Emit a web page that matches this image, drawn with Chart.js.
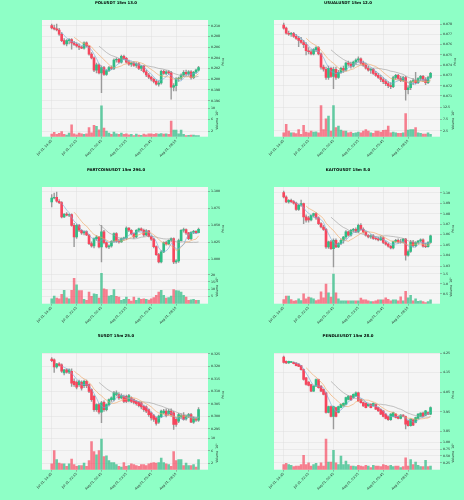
<!DOCTYPE html>
<html><head><meta charset="utf-8">
<script src="https://cdn.jsdelivr.net/npm/chart.js@4.4.1/dist/chart.umd.min.js"></script>
<style>
html,body{margin:0;padding:0;background:#8effc6;}
#wrap{position:relative;width:464px;height:500px;overflow:hidden;background:#8effc6;}
#wrap canvas{position:absolute;}
</style></head><body><div id="wrap"></div>
<script>
// ---------- shared categories ----------
const tickIndex = [0, 10, 20, 30, 40, 50];
const tickLabels = ['Jul 31, 19:45', 'Jul 31, 22:15', 'Aug 01, 00:45', 'Aug 01, 03:15', 'Aug 01, 05:45', 'Aug 01, 08:15'];
const maPeriods = [5, 10, 20];

// ---------- POLUSDT ----------
const polOHLC = [[0.2100,0.2103,0.2094,0.2096],[0.2096,0.2101,0.2092,0.2094],[0.2094,0.2103,0.2090,0.2092],[0.2092,0.2095,0.2082,0.2084],[0.2084,0.2087,0.2070,0.2072],[0.2072,0.2076,0.2064,0.2066],[0.2066,0.2074,0.2062,0.2072],[0.2072,0.2076,0.2066,0.2074],[0.2074,0.2076,0.2056,0.2068],[0.2068,0.2071,0.2063,0.2065],
[0.2065,0.2068,0.2060,0.2062],[0.2062,0.2066,0.2055,0.2060],[0.2060,0.2062,0.2057,0.2058],[0.2058,0.2070,0.2056,0.2068],[0.2068,0.2070,0.2060,0.2062],[0.2062,0.2063,0.2045,0.2047],[0.2047,0.2050,0.2038,0.2040],[0.2040,0.2042,0.2014,0.2017],[0.2017,0.2030,0.2012,0.2027],[0.2027,0.2029,0.2010,0.2012],
[0.2012,0.2025,0.1975,0.2022],[0.2022,0.2024,0.2007,0.2009],[0.2009,0.2018,0.2007,0.2016],[0.2016,0.2024,0.2014,0.2022],[0.2022,0.2025,0.2018,0.2020],[0.2020,0.2038,0.2018,0.2036],[0.2036,0.2040,0.2032,0.2037],[0.2037,0.2039,0.2030,0.2032],[0.2032,0.2045,0.2030,0.2043],[0.2043,0.2045,0.2037,0.2039],
[0.2039,0.2041,0.2030,0.2032],[0.2032,0.2036,0.2026,0.2028],[0.2028,0.2032,0.2024,0.2030],[0.2030,0.2033,0.2024,0.2026],[0.2026,0.2031,0.2022,0.2029],[0.2029,0.2031,0.2018,0.2020],[0.2020,0.2026,0.2016,0.2024],[0.2024,0.2026,0.2012,0.2014],[0.2014,0.2017,0.2005,0.2008],[0.2008,0.2011,0.2001,0.2004],
[0.2004,0.2006,0.1997,0.2000],[0.2000,0.2002,0.1993,0.1996],[0.1996,0.1999,0.1989,0.1991],[0.1991,0.1997,0.1987,0.1993],[0.1993,0.2017,0.1991,0.2015],[0.2015,0.2017,0.2009,0.2011],[0.2011,0.2016,0.2008,0.2014],[0.2014,0.2016,0.2009,0.2012],[0.2012,0.2015,0.1963,0.1985],[0.1985,0.1992,0.1978,0.1988],
[0.1988,0.2003,0.1978,0.2001],[0.2001,0.2004,0.1996,0.2002],[0.2002,0.2010,0.1999,0.2008],[0.2008,0.2016,0.2005,0.2013],[0.2013,0.2017,0.2007,0.2010],[0.2010,0.2016,0.2007,0.2014],[0.2014,0.2016,0.2000,0.2003],[0.2003,0.2015,0.2001,0.2013],[0.2013,0.2019,0.2011,0.2017],[0.2017,0.2024,0.2015,0.2022]];
const polVolume = [0.9,1.5,0.8,1.2,1.8,0.8,0.6,1.3,4.2,1.0, 0.7,1.3,1.0,0.8,1.0,3.2,1.4,4.0,3.6,2.4, 10.8,3.0,2.0,1.3,0.8,1.6,1.0,0.8,1.3,0.8, 1.0,0.7,0.8,0.4,0.9,0.6,0.5,0.9,0.7,1.0, 1.0,0.8,1.1,0.9,1.1,0.9,1.0,0.8,5.5,2.3, 2.3,1.0,2.3,0.8,0.4,0.5,0.6,0.6,0.4,0.4];
const polPriceTicks = [0.196,0.198,0.200,0.202,0.204,0.206,0.208,0.210];
const polVolumeTicks = [2,4,6,8,10];

// ---------- USUALUSDT ----------
const usualOHLC = [[0.0779,0.0781,0.0775,0.0776],[0.0776,0.0777,0.0770,0.0771],[0.0771,0.0773,0.0769,0.0770],[0.0770,0.0772,0.0768,0.0771],[0.0771,0.0772,0.0767,0.0768],[0.0768,0.0770,0.0765,0.0766],[0.0766,0.0768,0.0758,0.0764],[0.0764,0.0767,0.0761,0.0762],[0.0762,0.0764,0.0757,0.0760],[0.0760,0.0762,0.0750,0.0754],
[0.0754,0.0757,0.0751,0.0753],[0.0753,0.0755,0.0750,0.0751],[0.0751,0.0756,0.0750,0.0755],[0.0755,0.0758,0.0753,0.0757],[0.0757,0.0758,0.0750,0.0751],[0.0751,0.0752,0.0736,0.0738],[0.0738,0.0740,0.0734,0.0736],[0.0736,0.0738,0.0726,0.0728],[0.0728,0.0739,0.0726,0.0737],[0.0737,0.0738,0.0728,0.0729],
[0.0729,0.0738,0.0717,0.0736],[0.0736,0.0738,0.0726,0.0728],[0.0728,0.0735,0.0727,0.0733],[0.0733,0.0738,0.0732,0.0737],[0.0737,0.0739,0.0733,0.0735],[0.0735,0.0743,0.0734,0.0742],[0.0742,0.0744,0.0739,0.0741],[0.0741,0.0743,0.0737,0.0739],[0.0739,0.0744,0.0738,0.0743],[0.0743,0.0746,0.0741,0.0745],
[0.0745,0.0748,0.0743,0.0746],[0.0746,0.0747,0.0741,0.0742],[0.0742,0.0744,0.0739,0.0740],[0.0740,0.0742,0.0736,0.0737],[0.0737,0.0739,0.0734,0.0735],[0.0735,0.0737,0.0732,0.0736],[0.0736,0.0737,0.0731,0.0732],[0.0732,0.0734,0.0729,0.0730],[0.0730,0.0732,0.0727,0.0728],[0.0728,0.0730,0.0724,0.0726],
[0.0726,0.0728,0.0722,0.0724],[0.0724,0.0726,0.0720,0.0722],[0.0722,0.0724,0.0718,0.0720],[0.0720,0.0723,0.0717,0.0719],[0.0719,0.0729,0.0718,0.0728],[0.0728,0.0731,0.0726,0.0730],[0.0730,0.0731,0.0726,0.0727],[0.0727,0.0729,0.0724,0.0725],[0.0725,0.0729,0.0724,0.0728],[0.0728,0.0729,0.0706,0.0716],
[0.0716,0.0720,0.0712,0.0718],[0.0718,0.0725,0.0716,0.0724],[0.0724,0.0727,0.0721,0.0725],[0.0725,0.0733,0.0722,0.0723],[0.0723,0.0728,0.0722,0.0727],[0.0727,0.0730,0.0725,0.0729],[0.0729,0.0730,0.0724,0.0726],[0.0726,0.0728,0.0721,0.0723],[0.0723,0.0729,0.0722,0.0728],[0.0728,0.0733,0.0727,0.0732]];
const usualVolume = [1.7,5.3,2.4,1.7,1.7,1.3,3.1,1.0,4.9,2.0, 1.7,2.4,2.0,2.1,1.7,13.4,3.1,7.7,8.9,2.4, 13.4,3.9,4.6,2.9,2.4,2.4,1.7,2.0,1.4,1.7, 2.0,1.7,2.4,3.1,2.4,1.7,1.4,2.4,2.4,2.0, 2.7,2.9,4.6,1.7,2.0,1.7,1.4,1.4,1.7,9.9, 2.9,3.1,3.1,3.9,1.7,1.4,1.1,1.1,1.7,1.0];
const usualPriceTicks = [0.071,0.072,0.073,0.074,0.075,0.076,0.077,0.078];
const usualVolumeTicks = [2.5,5.0,7.5,10.0,12.5];

// ---------- PARTCOINUSDT ----------
const partOHLC = [[1.0844,1.0951,1.0771,1.0902],[1.0902,1.0975,1.0890,1.0912],[1.0912,1.0990,1.0840,1.0854],[1.0854,1.0880,1.0820,1.0834],[1.0834,1.0850,1.0610,1.0624],[1.0624,1.0675,1.0615,1.0668],[1.0668,1.0690,1.0640,1.0650],[1.0650,1.0670,1.0630,1.0660],[1.0660,1.0670,1.0490,1.0502],[1.0502,1.0530,1.0190,1.0331],
[1.0331,1.0520,1.0310,1.0502],[1.0502,1.0515,1.0410,1.0429],[1.0429,1.0440,1.0370,1.0390],[1.0390,1.0420,1.0360,1.0410],[1.0410,1.0420,1.0350,1.0360],[1.0360,1.0370,1.0220,1.0234],[1.0234,1.0260,1.0180,1.0200],[1.0200,1.0320,1.0170,1.0307],[1.0307,1.0350,1.0280,1.0331],[1.0331,1.0340,1.0170,1.0185],
[1.0185,1.0500,0.9965,1.0405],[1.0405,1.0430,1.0230,1.0248],[1.0248,1.0260,1.0170,1.0185],[1.0185,1.0215,1.0160,1.0200],[1.0200,1.0280,1.0180,1.0268],[1.0268,1.0390,1.0250,1.0380],[1.0380,1.0395,1.0250,1.0268],[1.0268,1.0300,1.0240,1.0258],[1.0258,1.0320,1.0250,1.0307],[1.0307,1.0330,1.0280,1.0317],
[1.0317,1.0480,1.0290,1.0463],[1.0463,1.0470,1.0410,1.0429],[1.0429,1.0440,1.0360,1.0380],[1.0380,1.0390,1.0310,1.0330],[1.0330,1.0440,1.0320,1.0429],[1.0429,1.0460,1.0410,1.0450],[1.0450,1.0465,1.0420,1.0430],[1.0430,1.0445,1.0340,1.0360],[1.0360,1.0440,1.0350,1.0420],[1.0420,1.0430,1.0330,1.0340],
[1.0340,1.0350,1.0280,1.0300],[1.0300,1.0310,1.0170,1.0190],[1.0190,1.0200,1.0060,1.0073],[1.0073,1.0090,0.9950,0.9966],[0.9966,1.0130,0.9950,1.0112],[1.0112,1.0260,1.0100,1.0248],[1.0248,1.0270,1.0210,1.0230],[1.0230,1.0290,1.0220,1.0283],[1.0283,1.0320,1.0260,1.0307],[1.0307,1.0320,0.9941,0.9966],
[0.9966,1.0000,0.9945,0.9980],[0.9980,1.0300,0.9960,1.0278],[1.0278,1.0440,1.0270,1.0429],[1.0429,1.0460,1.0400,1.0440],[1.0440,1.0450,1.0370,1.0390],[1.0390,1.0400,1.0290,1.0307],[1.0307,1.0410,1.0290,1.0400],[1.0400,1.0430,1.0380,1.0414],[1.0414,1.0425,1.0380,1.0395],[1.0395,1.0460,1.0390,1.0444]];
const partVolume = [3.4,5.2,3.9,3.4,6.4,9.3,4.1,3.4,9.3,17.5, 13.0,9.1,9.1,3.0,2.3,8.0,5.0,6.8,6.4,3.9, 21.0,10.2,9.8,5.2,5.7,9.8,5.0,4.5,2.3,3.0, 4.5,3.0,1.8,4.5,2.3,3.9,3.0,3.4,3.0,2.5, 3.4,4.3,5.7,8.0,9.3,5.7,3.9,4.3,5.2,9.8, 9.1,8.9,8.0,5.7,4.5,2.3,2.7,3.0,2.3,2.3];
const partPriceTicks = [1.000,1.025,1.050,1.075,1.100];
const partVolumeTicks = [5,10,15,20];

// ---------- KAITOUSDT ----------
const kaitoOHLC = [[1.1000,1.1015,1.0950,1.0959],[1.0959,1.0970,1.0905,1.0911],[1.0911,1.0935,1.0900,1.0927],[1.0927,1.0940,1.0905,1.0915],[1.0915,1.0925,1.0890,1.0900],[1.0900,1.0910,1.0830,1.0841],[1.0841,1.0890,1.0830,1.0880],[1.0880,1.0930,1.0870,1.0895],[1.0895,1.0900,1.0705,1.0769],[1.0769,1.0790,1.0720,1.0737],
[1.0760,1.0775,1.0720,1.0740],[1.0740,1.0790,1.0730,1.0784],[1.0784,1.0805,1.0770,1.0800],[1.0800,1.0810,1.0745,1.0760],[1.0760,1.0770,1.0695,1.0705],[1.0705,1.0715,1.0665,1.0673],[1.0673,1.0690,1.0640,1.0650],[1.0650,1.0660,1.0470,1.0483],[1.0483,1.0540,1.0470,1.0531],[1.0531,1.0545,1.0460,1.0467],
[1.0467,1.0560,1.0293,1.0547],[1.0547,1.0560,1.0475,1.0483],[1.0483,1.0525,1.0475,1.0515],[1.0515,1.0560,1.0505,1.0547],[1.0547,1.0585,1.0520,1.0578],[1.0578,1.0640,1.0560,1.0626],[1.0626,1.0635,1.0585,1.0594],[1.0594,1.0650,1.0585,1.0642],[1.0642,1.0660,1.0625,1.0650],[1.0650,1.0665,1.0620,1.0630],
[1.0630,1.0700,1.0620,1.0689],[1.0689,1.0705,1.0640,1.0650],[1.0650,1.0665,1.0615,1.0625],[1.0625,1.0635,1.0585,1.0594],[1.0594,1.0600,1.0570,1.0578],[1.0578,1.0600,1.0565,1.0590],[1.0590,1.0600,1.0555,1.0565],[1.0565,1.0580,1.0550,1.0560],[1.0560,1.0575,1.0540,1.0550],[1.0550,1.0585,1.0545,1.0570],
[1.0570,1.0580,1.0515,1.0525],[1.0525,1.0540,1.0500,1.0510],[1.0510,1.0520,1.0480,1.0490],[1.0490,1.0500,1.0465,1.0474],[1.0474,1.0540,1.0465,1.0535],[1.0535,1.0555,1.0525,1.0547],[1.0547,1.0560,1.0520,1.0530],[1.0530,1.0555,1.0520,1.0528],[1.0528,1.0565,1.0520,1.0558],[1.0558,1.0565,1.0357,1.0404],
[1.0404,1.0455,1.0395,1.0440],[1.0440,1.0545,1.0430,1.0529],[1.0529,1.0545,1.0480,1.0495],[1.0495,1.0535,1.0485,1.0525],[1.0525,1.0545,1.0515,1.0540],[1.0540,1.0560,1.0530,1.0550],[1.0550,1.0560,1.0480,1.0490],[1.0490,1.0520,1.0475,1.0485],[1.0485,1.0535,1.0480,1.0525],[1.0525,1.0595,1.0520,1.0588]];
const kaitoVolume = [0.21,0.38,0.38,0.21,0.13,0.16,0.25,0.16,0.49,0.25, 0.33,0.30,0.25,0.16,0.20,0.60,0.30,0.98,0.54,0.33, 1.48,0.54,0.25,0.15,0.15,0.15,0.15,0.15,0.15,0.15, 0.15,0.28,0.20,0.20,0.15,0.10,0.10,0.15,0.20,0.20, 0.20,0.30,0.22,0.15,0.20,0.20,0.15,0.35,0.15,0.62, 0.30,0.42,0.15,0.25,0.12,0.15,0.10,0.05,0.10,0.20];
const kaitoPriceTicks = [1.03,1.04,1.05,1.06,1.07,1.08,1.09,1.10];
const kaitoVolumeTicks = [0.5,1.0,1.5];

// ---------- SUSDT ----------
const sOHLC = [[0.3229,0.3235,0.3218,0.3222],[0.3226,0.3230,0.3175,0.3197],[0.3197,0.3212,0.3192,0.3210],[0.3210,0.3215,0.3200,0.3203],[0.3206,0.3210,0.3175,0.3180],[0.3173,0.3188,0.3165,0.3186],[0.3186,0.3190,0.3172,0.3176],[0.3176,0.3190,0.3170,0.3186],[0.3180,0.3190,0.3120,0.3133],[0.3140,0.3150,0.3120,0.3127],
[0.3136,0.3142,0.3110,0.3117],[0.3127,0.3145,0.3120,0.3140],[0.3136,0.3142,0.3105,0.3113],[0.3123,0.3145,0.3115,0.3140],[0.3140,0.3145,0.3115,0.3123],[0.3127,0.3130,0.3095,0.3100],[0.3107,0.3110,0.3060,0.3067],[0.3080,0.3085,0.3020,0.3027],[0.3027,0.3050,0.3020,0.3047],[0.3047,0.3052,0.3010,0.3017],
[0.3017,0.3060,0.2975,0.3054],[0.3056,0.3062,0.3020,0.3027],[0.3027,0.3050,0.3022,0.3047],[0.3047,0.3070,0.3042,0.3067],[0.3067,0.3078,0.3060,0.3074],[0.3067,0.3100,0.3062,0.3094],[0.3087,0.3102,0.3082,0.3094],[0.3087,0.3095,0.3068,0.3074],[0.3074,0.3090,0.3070,0.3083],[0.3080,0.3085,0.3055,0.3060],
[0.3080,0.3085,0.3055,0.3060],[0.3062,0.3088,0.3058,0.3083],[0.3074,0.3078,0.3055,0.3060],[0.3067,0.3070,0.3050,0.3056],[0.3060,0.3063,0.3045,0.3051],[0.3056,0.3060,0.3038,0.3043],[0.3054,0.3058,0.3030,0.3038],[0.3040,0.3045,0.3020,0.3027],[0.3038,0.3042,0.3015,0.3021],[0.3027,0.3030,0.3000,0.3007],
[0.3014,0.3018,0.2985,0.2994],[0.3003,0.3008,0.2980,0.2988],[0.2994,0.2998,0.2965,0.2972],[0.2977,0.3005,0.2972,0.3001],[0.2999,0.3025,0.2995,0.3021],[0.3014,0.3028,0.3010,0.3021],[0.3021,0.3030,0.2998,0.3003],[0.3011,0.3028,0.3005,0.3021],[0.3021,0.3030,0.3000,0.3007],[0.3014,0.3020,0.2948,0.2968],
[0.2988,0.2995,0.2960,0.2968],[0.2981,0.3012,0.2975,0.3007],[0.2998,0.3010,0.2992,0.3003],[0.3003,0.3015,0.2985,0.2988],[0.2990,0.3005,0.2985,0.3001],[0.3001,0.3012,0.2995,0.3007],[0.3007,0.3012,0.2975,0.2977],[0.2977,0.2998,0.2972,0.2994],[0.2990,0.2995,0.2980,0.2985],[0.2985,0.3035,0.2980,0.3027]];
const sVolume = [1.9,6.1,3.2,2.1,1.9,1.9,1.1,1.9,3.4,1.6, 1.1,1.3,1.3,2.1,1.1,2.9,8.9,5.8,4.7,6.1, 9.7,4.2,4.4,2.9,2.3,2.3,1.6,1.1,0.8,2.3, 1.1,1.3,1.9,1.6,1.3,1.1,1.6,1.6,1.3,1.9, 2.1,2.3,2.1,2.3,3.7,2.3,1.9,1.6,1.1,5.8, 2.9,3.2,3.2,1.3,2.1,1.3,1.3,1.6,0.8,3.2];
const sPriceTicks = [0.295,0.300,0.305,0.310,0.315,0.320,0.325];
const sVolumeTicks = [2,4,6,8,10];

// ---------- PENDLEUSDT ----------
const pendleOHLC = [[4.2297,4.2350,4.1990,4.2027],[4.2078,4.2110,4.1960,4.1993],[4.1993,4.2095,4.1970,4.2078],[4.2027,4.2080,4.2010,4.2060],[4.2027,4.2050,4.1940,4.1960],[4.1993,4.2010,4.1840,4.1858],[4.1943,4.1970,4.1800,4.1824],[4.1858,4.1880,4.1630,4.1655],[4.1655,4.1680,4.1120,4.1149],[4.1233,4.1260,4.0860,4.0895],
[4.1014,4.1040,4.0820,4.0845],[4.0895,4.0920,4.0530,4.0558],[4.0558,4.0830,4.0540,4.0811],[4.0811,4.1180,4.0790,4.1149],[4.1149,4.1170,4.0700,4.0727],[4.0811,4.0840,4.0530,4.0558],[4.0642,4.0660,4.0360,4.0389],[4.0473,4.0500,3.9430,3.9460],[3.9460,3.9790,3.9440,3.9764],[3.9764,3.9800,3.9230,3.9257],
[3.9257,3.9790,3.8615,3.9764],[3.9713,3.9740,3.9230,3.9257],[3.9460,3.9790,3.9440,3.9764],[3.9713,3.9900,3.9690,3.9882],[3.9798,3.9950,3.9780,3.9933],[3.9882,4.0250,3.9860,4.0220],[4.0135,4.0320,4.0110,4.0304],[4.0304,4.0330,4.0080,4.0102],[4.0220,4.0420,4.0200,4.0389],[4.0304,4.0520,4.0280,4.0473],
[4.0473,4.0500,4.0030,4.0051],[4.0135,4.0160,3.9940,3.9967],[3.9967,4.0000,3.9770,3.9798],[3.9933,3.9960,3.9690,3.9713],[3.9798,3.9900,3.9780,3.9882],[3.9882,3.9910,3.9690,3.9713],[3.9798,3.9950,3.9780,3.9933],[3.9882,3.9900,3.9600,3.9629],[3.9713,3.9740,3.9520,3.9544],[3.9629,3.9650,3.9350,3.9375],
[3.9544,3.9560,3.9230,3.9257],[3.9375,3.9400,3.9130,3.9156],[3.9257,3.9280,3.9060,3.9088],[3.9088,3.9400,3.9060,3.9375],[3.9257,3.9480,3.9230,3.9460],[3.9375,3.9400,3.9180,3.9207],[3.9257,3.9280,3.9130,3.9156],[3.9156,3.9350,3.9130,3.9325],[3.9325,3.9350,3.9230,3.9257],[3.9257,3.9280,3.8615,3.8869],
[3.9038,3.9060,3.8760,3.8784],[3.8784,3.9140,3.8760,3.9122],[3.9088,3.9110,3.8790,3.8818],[3.8953,3.9230,3.8930,3.9207],[3.9156,3.9400,3.9130,3.9375],[3.9257,3.9450,3.9230,3.9426],[3.9426,3.9480,3.9230,3.9257],[3.9325,3.9570,3.9300,3.9544],[3.9460,3.9500,3.9350,3.9375],[3.9375,3.9750,3.9350,3.9713]];
const pendleVolume = [0.19,0.23,0.19,0.16,0.11,0.13,0.13,0.19,0.52,0.19, 0.25,0.13,0.19,0.23,0.13,0.25,0.13,1.12,0.28,0.28, 0.71,0.25,0.19,0.50,0.19,0.31,0.19,0.13,0.13,0.11, 0.16,0.13,0.11,0.16,0.13,0.08,0.16,0.13,0.13,0.11, 0.19,0.16,0.13,0.16,0.11,0.13,0.13,0.08,0.11,0.43, 0.13,0.37,0.19,0.28,0.16,0.11,0.11,0.34,0.11,0.13];
const pendlePriceTicks = [3.85,3.90,3.95,4.00,4.05,4.10,4.15,4.20,4.25];
const pendleVolumeTicks = [0.25,0.50,0.75,1.00];

// ---------- panels ----------
const panels = [
  {title:'POLUSDT 15m 13.0', ohlc:polOHLC, vol:polVolume, pTicks:polPriceTicks, vTicks:polVolumeTicks, pMin:0.19550, pMax:0.21106, vMax:11.7, pDec:3, vDec:0, exp:'⁶'},
  {title:'USUALUSDT 15m 12.0', ohlc:usualOHLC, vol:usualVolume, pTicks:usualPriceTicks, vTicks:usualVolumeTicks, pMin:0.07028, pMax:0.07839, vMax:14.35, pDec:3, vDec:1, exp:'⁶'},
  {title:'PARTCOINUSDT 15m 296.0', ohlc:partOHLC, vol:partVolume, pTicks:partPriceTicks, vTicks:partVolumeTicks, pMin:0.9842, pMax:1.1063, vMax:23, pDec:3, vDec:0, exp:'⁵'},
  {title:'KAITOUSDT 15m 8.0', ohlc:kaitoOHLC, vol:kaitoVolume, pTicks:kaitoPriceTicks, vTicks:kaitoVolumeTicks, pMin:1.026, pMax:1.1054, vMax:1.67, pDec:2, vDec:1, exp:'⁶'},
  {title:'SUSDT 15m 25.0', ohlc:sOHLC, vol:sVolume, pTicks:sPriceTicks, vTicks:sVolumeTicks, pMin:0.29205, pMax:0.32528, vMax:10.6, pDec:3, vDec:0, exp:'⁶'},
  {title:'PENDLEUSDT 15m 28.0', ohlc:pendleOHLC, vol:pendleVolume, pTicks:pendlePriceTicks, vTicks:pendleVolumeTicks, pMin:3.824, pMax:4.2505, vMax:1.215, pDec:2, vDec:2, exp:'⁶'}
];

// ---------- styles ----------
const UP = '#2ebd85', DOWN = '#f6465d';
const UP_VOL = 'rgba(46,189,133,0.72)', DOWN_VOL = 'rgba(246,70,93,0.68)';
const WICK = '#9a9a9a';
const MA_COLORS = ['rgba(120,170,215,0.9)', 'rgba(240,165,100,0.9)', 'rgba(160,160,160,0.9)'];
const PLOT_BG = '#f5f5f5', GRID = '#dedede', TXT = '#222';
const FONT = 'DejaVu Sans';
const rowTop = [0, 167, 333], rowH = [167, 166, 167];
const PW = 232, PLOT_L = 42, PLOT_R = 208, PLOT_T = 20, PLOT_B = 136.7;

function sma(closes, n){
  const out = [];
  for (let i = n - 1; i < closes.length; i++){
    let s = 0; for (let k = i - n + 1; k <= i; k++) s += closes[k];
    out.push({x:i, y:s / n});
  }
  return out;
}

const wrap = document.getElementById('wrap');
panels.forEach((p, idx) => {
  const col = idx % 2, row = Math.floor(idx / 2);
  const H = rowH[row];
  const cv = document.createElement('canvas');
  cv.width = PW; cv.height = H;
  cv.style.left = (col * PW) + 'px'; cv.style.top = rowTop[row] + 'px';
  cv.style.width = PW + 'px'; cv.style.height = H + 'px';
  wrap.appendChild(cv);

  const closes = p.ohlc.map(c => c[3]);
  const isUp = p.ohlc.map(c => c[3] >= c[0]);
  const wicks = p.ohlc.map((c, i) => ({x:i, y:[c[2], c[1]]}));
  const bodies = p.ohlc.map((c, i) => ({x:i, y:[c[0], c[3]]}));
  const vols = p.vol.map((v, i) => ({x:i, y:v}));

  const maSets = maPeriods.map((n, k) => ({
    type:'line', data:sma(closes, n), yAxisID:'y', borderColor:MA_COLORS[k], borderWidth:0.7,
    pointRadius:0, fill:false, tension:0, order:1
  }));

  const textPlugin = {
    id:'panelText',
    beforeDraw(chart){
      const {ctx, chartArea:a} = chart;
      ctx.save(); ctx.fillStyle = PLOT_BG; ctx.fillRect(a.left, a.top, a.right - a.left, a.bottom - a.top); ctx.restore();
    },
    afterDraw(chart){
      const ctx = chart.ctx;
      ctx.save();
      ctx.fillStyle = '#000'; ctx.font = 'bold 3.9px "' + FONT + '"';
      ctx.textAlign = 'center'; ctx.textBaseline = 'middle';
      ctx.fillText(p.title, PW / 2, 3.2);
      ctx.font = '3.2px "' + FONT + '"'; ctx.fillStyle = TXT;
      const axisLabel = (scale, text) => {
        let w = 0;
        scale.ticks.forEach(t => { w = Math.max(w, ctx.measureText(String(t.label)).width); });
        const x = scale.left + 3 + w + 2.6, y = (scale.top + scale.bottom) / 2;
        ctx.save(); ctx.translate(x, y); ctx.rotate(-Math.PI / 2);
        ctx.textAlign = 'center'; ctx.textBaseline = 'middle'; ctx.fillText(text, 0, 0); ctx.restore();
      };
      axisLabel(chart.scales.y, 'Price');
      axisLabel(chart.scales.yv, 'Volume  10' + p.exp);
      ctx.restore();
    }
  };

  new Chart(cv, {
    type:'bar',
    data:{datasets:[
      ...maSets,
      {data:bodies, yAxisID:'y', backgroundColor:isUp.map(u => u ? UP : DOWN), borderWidth:0, barThickness:2.0, grouped:false, order:2},
      {data:wicks, yAxisID:'y', backgroundColor:WICK, borderWidth:0, barThickness:0.75, grouped:false, order:3},
      {data:vols, yAxisID:'yv', backgroundColor:isUp.map(u => u ? UP_VOL : DOWN_VOL), borderWidth:0, barThickness:1.9, grouped:false, order:2}
    ]},
    options:{
      responsive:false, animation:false, devicePixelRatio:1,
      layout:{padding:{left:PLOT_L, top:PLOT_T, right:0, bottom:0}},
      plugins:{legend:{display:false}, tooltip:{enabled:false}},
      scales:{
        x:{type:'linear', min:-3.9, max:62.8, offset:false,
          afterBuildTicks: s => { s.ticks = tickIndex.map(v => ({value:v})); },
          afterFit: s => { s.height = H - PLOT_B; },
          ticks:{autoSkip:false, minRotation:45, maxRotation:45, padding:0.5, color:TXT, font:{family:FONT, size:3.2},
            callback: v => { const k = tickIndex.indexOf(v); return k >= 0 ? tickLabels[k] : ''; }},
          grid:{color:GRID, lineWidth:0.5, offset:false, drawTicks:true, tickLength:2, tickColor:'#777'},
          border:{display:false}},
        y:{type:'linear', position:'right', stack:'main', stackWeight:5, min:p.pMin, max:p.pMax,
          afterBuildTicks: s => { s.ticks = p.pTicks.map(v => ({value:v})); },
          afterFit: s => { s.width = PW - PLOT_R; },
          ticks:{padding:1, color:TXT, font:{family:FONT, size:3.2}, callback: v => Number(v).toFixed(p.pDec)},
          grid:{color:GRID, lineWidth:0.5, drawTicks:true, tickLength:2, tickColor:'#777'},
          border:{display:false}},
        yv:{type:'linear', position:'right', stack:'main', stackWeight:2, min:0, max:p.vMax,
          afterBuildTicks: s => { s.ticks = p.vTicks.map(v => ({value:v})); },
          afterFit: s => { s.width = PW - PLOT_R; },
          ticks:{padding:1, color:TXT, font:{family:FONT, size:3.2}, callback: v => Number(v).toFixed(p.vDec)},
          grid:{color:GRID, lineWidth:0.5, drawTicks:true, tickLength:2, tickColor:'#777'},
          border:{display:false}}
      }
    },
    plugins:[textPlugin]
  });
});
</script></body></html>
